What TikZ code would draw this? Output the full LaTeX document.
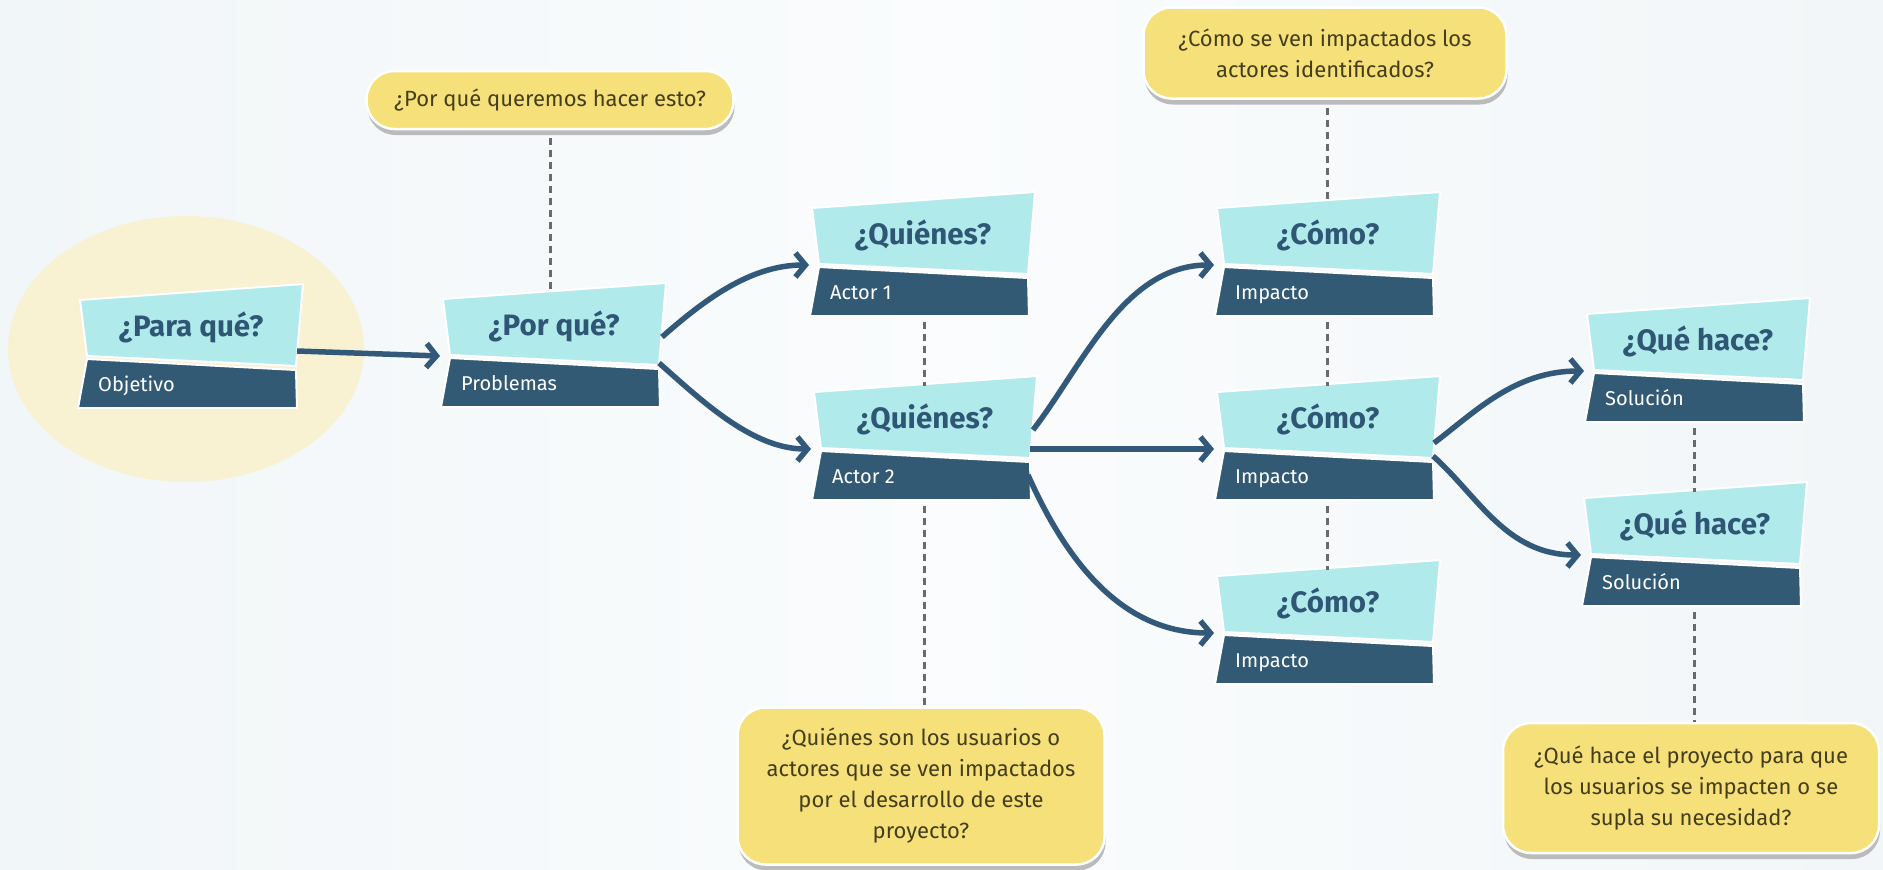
\documentclass[tikz,border=0pt]{standalone}
\usepackage{fontspec}
\setmainfont{Fira Sans}
\usetikzlibrary{arrows.meta,calc}
\definecolor{bgl}{HTML}{F1F6F8}
\definecolor{bgm}{HTML}{FAFCFD}
\definecolor{bgr}{HTML}{F2F6F8}
\definecolor{ellc}{HTML}{F8F1D2}
\definecolor{lightc}{HTML}{B0EAEB}
\definecolor{darkc}{HTML}{335A75}
\definecolor{headc}{HTML}{2F5775}
\definecolor{arrc}{HTML}{33597A}
\definecolor{yelc}{HTML}{F5E07A}
\definecolor{shc}{HTML}{BBBBBB}
\definecolor{calltext}{HTML}{453E1C}
\definecolor{dashc}{HTML}{6A6A6A}
\tikzset{
 x=1pt, y=-1pt,
 conn/.style={draw=arrc, line width=5.5pt, -{Straight Barb[length=10pt,width=24pt]}},
 dashln/.style={draw=dashc, line width=3pt, dash pattern=on 7pt off 5pt},
 callout/.style={fill=yelc, draw=white, line width=2.5pt, rounded corners=28pt, align=center,
   text=calltext, font=\fontsize{22}{31}\selectfont, inner sep=0pt,
   preaction={fill=shc, transform canvas={xshift=1pt,yshift=-6pt}}},
 headtxt/.style={text=headc, font=\fontsize{29.5}{29}\selectfont\bfseries, anchor=base, inner sep=0pt},
 labtxt/.style={text=white, font=\fontsize{20}{20}\selectfont, anchor=base west, inner sep=0pt},
 pics/qbox/.style 2 args={code={
   \filldraw[fill=lightc, draw=white, line width=2pt] (0,16) -- (223,0) -- (216,82) -- (7,72) -- cycle;
   \filldraw[fill=darkc, draw=white, line width=2pt] (7,75) -- (216,86) -- (217,124) -- (-2,124) -- cycle;
   \node[headtxt] (-h) at (111,52) {#1};
   \node[labtxt] (-l) at (18,107) {#2};
   \coordinate (-in) at (-3,73);
   \coordinate (-otop) at (219,54);
   \coordinate (-ohi) at (217,67);
   \coordinate (-omid) at (216,73);
   \coordinate (-olo) at (216,80);
   \coordinate (-obot) at (214,99);
   \coordinate (-top) at (110,10);
   \coordinate (-bot) at (110,130);
 }}
}
\begin{document}
\begin{tikzpicture}
\shade[left color=bgl, right color=bgm] (0,0) rectangle (942,870);
\shade[left color=bgm, right color=bgr] (941,0) rectangle (1883,870);
\useasboundingbox (0,0) rectangle (1883,870);
\fill[ellc] (186,349) ellipse [x radius=178pt, y radius=133pt];

\node[callout, minimum width=367pt, minimum height=58pt] (c1) at (550,100) {¿Por qué queremos hacer esto?};
\node[callout, minimum width=363pt, minimum height=91pt] (c2) at (1325,53) {¿Cómo se ven impactados los\\actores identificados?};
\node[callout, minimum width=367pt, minimum height=157pt] (c3) at (921,786) {¿Quiénes son los usuarios o\\actores que se ven impactados\\por el desarrollo de este\\proyecto?};
\node[callout, minimum width=376pt, minimum height=130pt] (c4) at (1691,788) {¿Qué hace el proyecto para que\\los usuarios se impacten o se\\supla su necesidad?};

\pic (pz) at (80,284) {qbox={¿Para qué?}{Objetivo}};
\pic (pq) at (443,283) {qbox={¿Por qué?}{Problemas}};
\pic (q1) at (812,192) {qbox={¿Quiénes?}{Actor 1}};
\pic (q2) at (814,376) {qbox={¿Quiénes?}{Actor 2}};
\pic (cm1) at (1217,192) {qbox={¿Cómo?}{Impacto}};
\pic (cm2) at (1217,376) {qbox={¿Cómo?}{Impacto}};
\pic (cm3) at (1217,560) {qbox={¿Cómo?}{Impacto}};
\pic (qh1) at (1587,298) {qbox={¿Qué hace?}{Solución}};
\pic (qh2) at (1584,482) {qbox={¿Qué hace?}{Solución}};

\draw[dashln, shorten <=8pt] (c1.south) -- (c1.south |- pq-top);
\draw[dashln, shorten <=8pt] (cm1-top |- c2.south) -- (cm1-top);
\draw[dashln] (q2-top |- q1-bot) -- (q2-top);
\draw[dashln] (cm1-bot) -- (cm2-top);
\draw[dashln] (cm2-bot) -- (cm3-top);
\draw[dashln] (qh2-top |- qh1-bot) -- (qh2-top);
\draw[dashln] (q2-bot) -- (q2-bot |- c3.north);
\draw[dashln] (qh2-bot) -- (qh2-bot |- c4.north);

\draw[conn] (pz-ohi) -- (pq-in);
\draw[conn] (pq-otop) .. controls +(40,-35) and +(-60,0) .. (q1-in);
\draw[conn] (pq-olo) .. controls +(40,35) and +(-60,0) .. (q2-in);
\draw[conn] (q2-otop) .. controls +(50,-65) and +(-90,0) .. (cm1-in);
\draw[conn] (q2-omid) -- (cm2-in);
\draw[conn] (q2-obot) .. controls +(40,90) and +(-90,0) .. (cm3-in);
\draw[conn] (cm2-ohi) .. controls +(40,-30) and +(-70,0) .. (qh1-in);
\draw[conn] (cm2-olo) .. controls +(45,40) and +(-75,0) .. (qh2-in);
\end{tikzpicture}
\end{document}
